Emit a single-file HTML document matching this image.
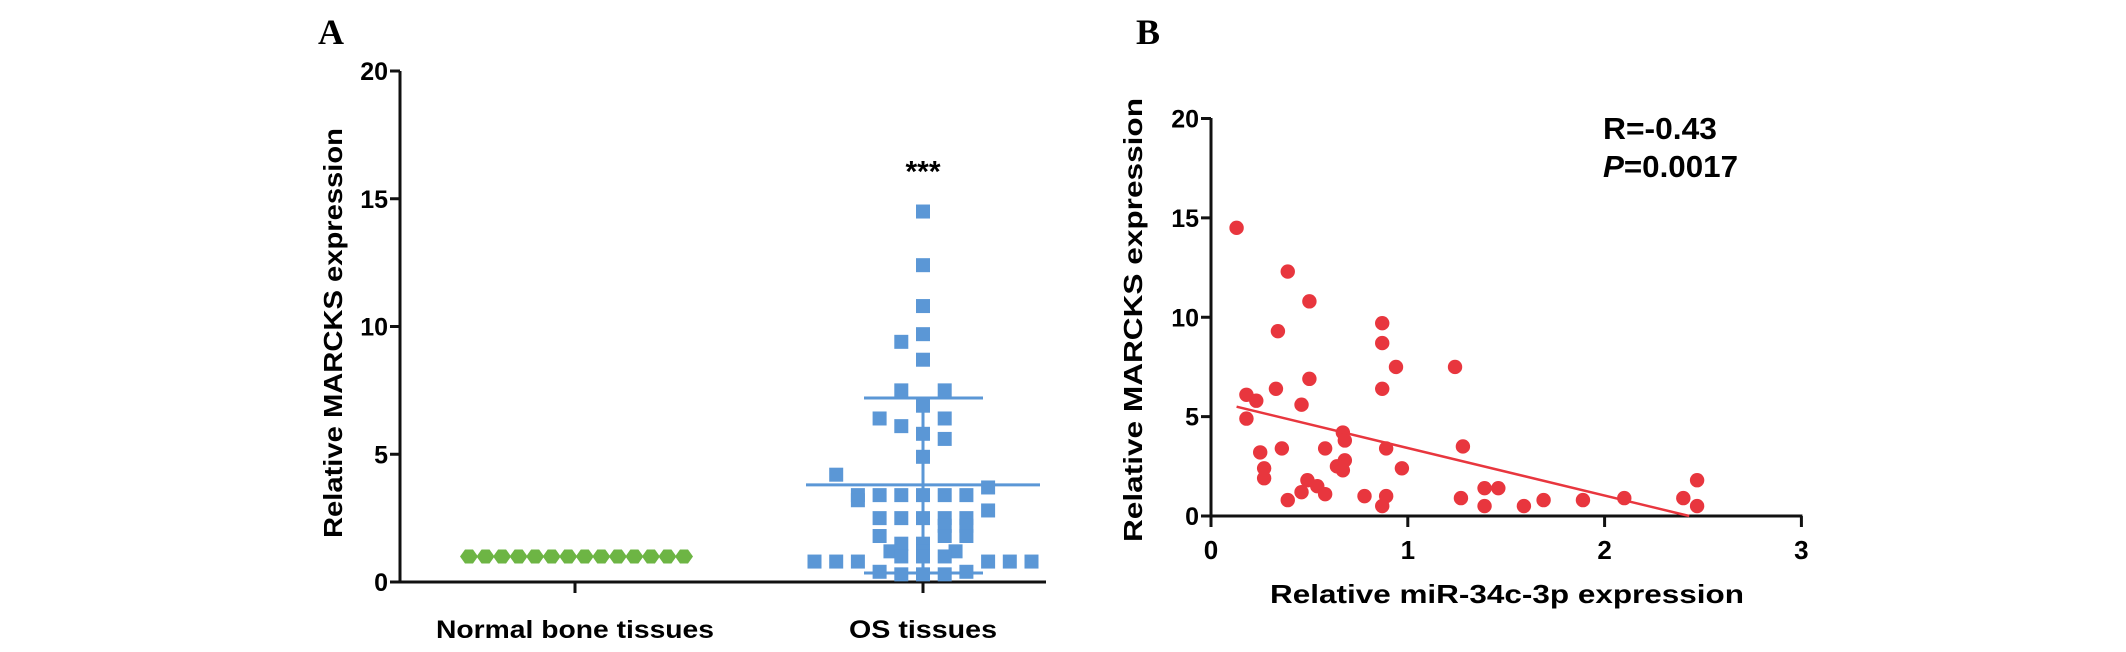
<!DOCTYPE html>
<html><head><meta charset="utf-8"><style>
html,body{margin:0;padding:0;background:#fff;}
svg{display:block;font-family:"Liberation Sans",Arial,sans-serif;font-weight:bold;}
</style></head><body>
<svg id="chart" width="2126" height="652" viewBox="0 0 2126 652" xmlns="http://www.w3.org/2000/svg">
<text x="318" y="44" font-family="Liberation Serif,serif" font-size="36" font-weight="bold">A</text>
<text x="1136" y="44" font-family="Liberation Serif,serif" font-size="36" font-weight="bold">B</text>
<g id="pa"></g>
<g id="pb"></g>
</svg>
<script>
const NS='http://www.w3.org/2000/svg';
// Panel A data
const aTicks=[0,5,10,15,20];
const aCategories=['Normal bone tissues','OS tissues'];
const normalValues=[1,1,1,1,1,1,1,1,1,1,1,1,1,1];
const osValues=[14.5,12.4,10.8,9.7,9.4,8.7,7.5,7.5,6.9,6.4,6.4,6.1,5.8,5.6,4.9,4.2,3.7,3.4,3.4,3.4,3.4,3.4,3.4,3.2,2.8,2.5,2.5,2.5,2.5,2.5,2.2,2.2,1.8,1.8,1.8,1.5,1.5,1.2,1.2,1.2,1.0,1.0,1.0,0.8,0.8,0.8,0.8,0.8,0.8,0.4,0.4,0.3,0.3,0.3];
const osSlots=[0,0,0,0,-1,0,-1,1,0,-2,1,-1,0,1,0,-4,3,-3,-2,-1,0,1,2,-3,3,-2,-1,0,1,2,1,2,-2,1,2,-1,0,-1.5,0,1.5,-1,0,1,-5,-4,-3,3,4,5,-2,2,-1,0,1];
const osMean=3.8, osSdHigh=7.2, osSdLow=0.35;
// Panel B data
const bXTicks=[0,1,2,3];
const bYTicks=[0,5,10,15,20];
const mirX=[0.13,0.39,0.50,0.34,0.87,0.87,0.94,1.24,0.50,0.33,0.87,0.18,0.23,0.46,0.18,0.67,0.68,0.36,0.58,0.25,0.89,1.28,0.68,0.64,0.27,0.67,0.97,0.27,0.49,0.54,0.46,0.58,0.39,0.78,0.89,0.87,1.27,1.39,1.46,1.39,1.59,1.69,1.89,2.10,2.40,2.47,2.47];
const marcksY=[14.5,12.3,10.8,9.3,9.7,8.7,7.5,7.5,6.9,6.4,6.4,6.1,5.8,5.6,4.9,4.2,3.8,3.4,3.4,3.2,3.4,3.5,2.8,2.5,2.4,2.3,2.4,1.9,1.8,1.5,1.2,1.1,0.8,1.0,1.0,0.5,0.9,1.4,1.4,0.5,0.5,0.8,0.8,0.9,0.9,1.8,0.5];
const fitX=[0.13,2.43], fitY=[5.5,0];

function el(tag,attrs,parent,txt){const e=document.createElementNS(NS,tag);for(const k in attrs)e.setAttribute(k,attrs[k]);if(txt!==undefined)e.textContent=txt;parent.appendChild(e);return e;}

// Panel A
const pa=document.getElementById('pa');
const ay=v=>582-(582-71)*v/20;
const ax0=400, axEnd=1046, catX=[575,923];
let e;
e=el('line',{x1:ax0,y1:71,x2:ax0,y2:583,stroke:'#111','stroke-width':3},pa);

e=el('line',{x1:ax0-1,y1:582,x2:axEnd,y2:582,stroke:'#111','stroke-width':3},pa);

aTicks.forEach(t=>{
  e=el('line',{x1:ax0-10,y1:ay(t),x2:ax0,y2:ay(t),stroke:'#111','stroke-width':3},pa);
  
  e=el('text',{x:ax0-12,y:ay(t)+9,'text-anchor':'end','font-size':25},pa,String(t));
  
});
aCategories.forEach((c,i)=>{
  e=el('line',{x1:catX[i],y1:582,x2:catX[i],y2:593,stroke:'#111','stroke-width':3},pa);
  
  e=el('text',{x:catX[i],y:638,'text-anchor':'middle','font-size':25,textLength:i==0?278:148,lengthAdjust:'spacingAndGlyphs'},pa,c);
  
});
e=el('text',{x:0,y:0,'text-anchor':'middle','font-size':26,transform:'translate(342,333) rotate(-90)',textLength:410,lengthAdjust:'spacingAndGlyphs'},pa,'Relative MARCKS expression');

const nStep=(684-469)/(normalValues.length-1);
normalValues.forEach((v,i)=>{
  const cx=469+i*nStep, cy=ay(v);
  e=el('polygon',{points:`${cx-9},${cy} ${cx-4},${cy-7} ${cx+4},${cy-7} ${cx+9},${cy} ${cx+4},${cy+7} ${cx-4},${cy+7}`,fill:'#6db544'},pa);
  
});
const osC='#5b97d6';
e=el('line',{x1:catX[1],y1:ay(osSdLow),x2:catX[1],y2:ay(osSdHigh),stroke:osC,'stroke-width':3},pa);

e=el('line',{x1:catX[1]-59,y1:ay(osSdHigh),x2:catX[1]+60,y2:ay(osSdHigh),stroke:osC,'stroke-width':3},pa);

e=el('line',{x1:catX[1]-59,y1:ay(osSdLow),x2:catX[1]+60,y2:ay(osSdLow),stroke:osC,'stroke-width':3},pa);

e=el('line',{x1:catX[1]-117,y1:ay(osMean),x2:catX[1]+117,y2:ay(osMean),stroke:osC,'stroke-width':3},pa);

osValues.forEach((v,i)=>{
  const cx=catX[1]+osSlots[i]*21.7, cy=ay(v);
  e=el('rect',{x:cx-7,y:cy-7,width:14,height:14,fill:osC},pa);
  
});
e=el('text',{x:catX[1],y:ay(16.3)+16,'text-anchor':'middle','font-size':30},pa,'***');


// Panel B
const pb=document.getElementById('pb');
const bx0=1211,bxs=196.8;
const bx=v=>bx0+v*bxs;
const by=v=>516-(516-118.5)*v/20;
e=el('line',{x1:bx0,y1:118,x2:bx0,y2:517,stroke:'#111','stroke-width':3},pb);

e=el('line',{x1:bx0-1,y1:516,x2:bx(3)+1,y2:516,stroke:'#111','stroke-width':3},pb);

bYTicks.forEach(t=>{
  e=el('line',{x1:bx0-10,y1:by(t),x2:bx0,y2:by(t),stroke:'#111','stroke-width':3},pb);
  
  e=el('text',{x:bx0-12,y:by(t)+9,'text-anchor':'end','font-size':25},pb,String(t));
  
});
bXTicks.forEach(t=>{
  e=el('line',{x1:bx(t),y1:516,x2:bx(t),y2:527,stroke:'#111','stroke-width':3},pb);
  
  e=el('text',{x:bx(t),y:559,'text-anchor':'middle','font-size':26},pb,String(t));
  
});
e=el('text',{x:1507,y:603,'text-anchor':'middle','font-size':26,textLength:474,lengthAdjust:'spacingAndGlyphs'},pb,'Relative miR-34c-3p expression');

e=el('text',{x:0,y:0,'text-anchor':'middle','font-size':26,transform:'translate(1142,320) rotate(-90)',textLength:444,lengthAdjust:'spacingAndGlyphs'},pb,'Relative MARCKS expression');

e=el('text',{x:1603,y:139,'font-size':31,textLength:114,lengthAdjust:'spacingAndGlyphs'},pb,'R=-0.43');

const pt=el('text',{x:1603,y:177,'font-size':31,textLength:135,lengthAdjust:'spacingAndGlyphs'},pb);

el('tspan',{'font-style':'italic'},pt,'P');el('tspan',{},pt,'=0.0017');
const red='#e8363e';
mirX.forEach((xv,i)=>{
  e=el('circle',{cx:bx(xv),cy:by(marcksY[i]),r:7.2,fill:red},pb);
  
});
e=el('line',{x1:bx(fitX[0]),y1:by(fitY[0]),x2:bx(fitX[1]),y2:by(fitY[1]),stroke:red,'stroke-width':2.5},pb);

</script>
</body></html>
